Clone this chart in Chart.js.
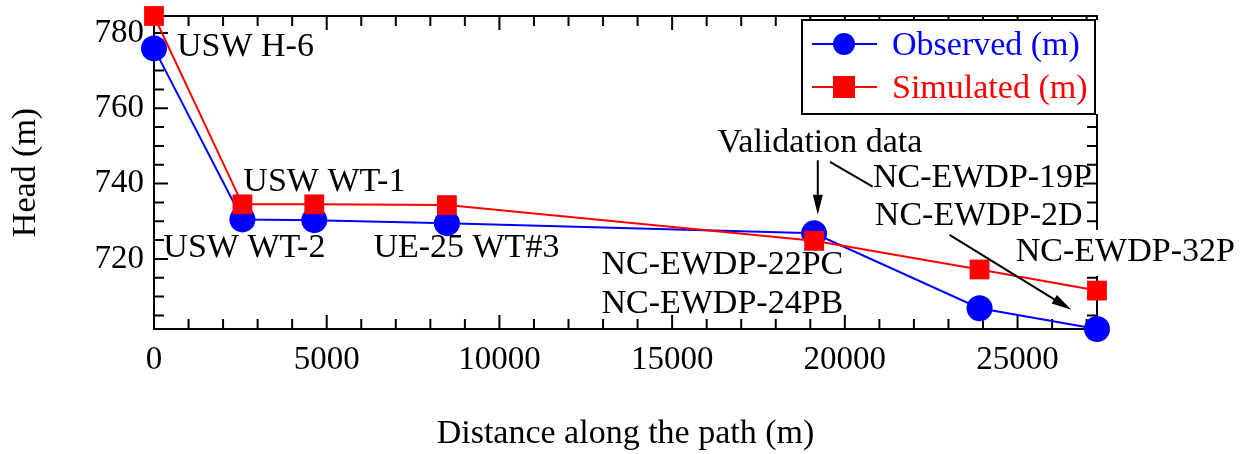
<!DOCTYPE html>
<html>
<head>
<meta charset="utf-8">
<script src="https://cdn.jsdelivr.net/npm/chart.js@4.4.1/dist/chart.umd.min.js"></script>
<style>
  body { margin: 0; background: #fff; }
  #wrap { width: 1246px; height: 454px; }
</style>
</head>
<body>
<div id="wrap"><canvas id="graphCanvasHead"></canvas></div>
<script>
// distance along the path (m) and head (m)
var distance = [0, 2560, 4640, 8480, 19110, 23900, 27300];
var headObserved = [775.9, 730.5, 730.3, 729.5, 726.8, 706.9, 701.4];
var headSimulated = [784.5, 734.5, 734.5, 734.3, 724.8, 717.2, 711.6];

var xTickLabels = [0, 5000, 10000, 15000, 20000, 25000];
var yTickLabels = [720, 740, 760, 780];

// well names, placed in data units (left edge, baseline)
var wellNames = [
  {text: 'USW H-6', x: 666, y: 773.8},
  {text: 'USW WT-1', x: 2586, y: 738.0},
  {text: 'USW WT-2', x: 270, y: 720.45},
  {text: 'UE-25 WT#3', x: 6351, y: 720.45},
  {text: 'Validation data', x: 16314, y: 748.4},
  {text: 'NC-EWDP-19P', x: 20813, y: 739.2},
  {text: 'NC-EWDP-2D', x: 20868, y: 729.0},
  {text: 'NC-EWDP-32P', x: 24949, y: 719.47, bg: true},
  {text: 'NC-EWDP-22PC', x: 12954, y: 716.0},
  {text: 'NC-EWDP-24PB', x: 12954, y: 705.6}
];

var pointerLines = [
  {x1: 19217, y1: 746.2, x2: 19217, y2: 731.7, head: true},
  {x1: 19570, y1: 745.8, x2: 20806, y2: 739.2, head: false},
  {x1: 23032, y1: 726.4, x2: 26556, y2: 706.5, head: true}
];

var serif = "'Liberation Serif', 'Times New Roman', serif";
Chart.defaults.font.family = serif;

function pts(xs, ys) {
  var out = [];
  for (var i = 0; i < xs.length; i++) {
    out.push({x: xs[i], y: ys[i]});
  }
  return out;
}

var frameTicks = {
  id: 'frameTicks',
  beforeDatasetsDraw: function (chart) {
    var ctx = chart.ctx;
    var a = chart.chartArea;
    var xs = chart.scales.x, ys = chart.scales.y;
    ctx.save();
    ctx.strokeStyle = '#000';
    ctx.lineWidth = 2;
    ctx.beginPath();
    ctx.rect(a.left, a.top, a.right - a.left, a.bottom - a.top);
    ctx.stroke();
    ctx.beginPath();
    for (var v = 0; v <= xs.max; v += 1000) {
      var px = xs.getPixelForValue(v);
      var len = (v % 5000 === 0) ? 14 : 10;
      ctx.moveTo(px, a.bottom); ctx.lineTo(px, a.bottom - len);
      ctx.moveTo(px, a.top); ctx.lineTo(px, a.top + len);
    }
    for (var w = 705; w <= ys.max; w += 5) {
      var py = ys.getPixelForValue(w);
      var l2 = (w % 20 === 0) ? 14 : 10;
      ctx.moveTo(a.left, py); ctx.lineTo(a.left + l2, py);
      ctx.moveTo(a.right, py); ctx.lineTo(a.right - l2, py);
    }
    ctx.stroke();
    ctx.restore();
  },
  afterDatasetsDraw: function (chart) {
    var ctx = chart.ctx;
    var xs = chart.scales.x, ys = chart.scales.y;
    ctx.save();
    ctx.font = '34px ' + serif;
    ctx.textAlign = 'left';
    ctx.textBaseline = 'alphabetic';
    wellNames.forEach(function (n) {
      var px = xs.getPixelForValue(n.x), py = ys.getPixelForValue(n.y);
      if (n.bg) {
        var wdt = ctx.measureText(n.text).width;
        ctx.fillStyle = '#fff';
        ctx.fillRect(px - 2, py - 31, wdt + 4, 46);
      }
      ctx.fillStyle = '#000';
      ctx.fillText(n.text, px, py);
    });
    ctx.strokeStyle = '#000';
    ctx.fillStyle = '#000';
    ctx.lineWidth = 2;
    pointerLines.forEach(function (p) {
      var x1 = xs.getPixelForValue(p.x1), y1 = ys.getPixelForValue(p.y1);
      var x2 = xs.getPixelForValue(p.x2), y2 = ys.getPixelForValue(p.y2);
      var ang = Math.atan2(y2 - y1, x2 - x1);
      var hl = p.head ? 20 : 0;
      ctx.beginPath();
      ctx.moveTo(x1, y1);
      ctx.lineTo(x2 - hl * Math.cos(ang), y2 - hl * Math.sin(ang));
      ctx.stroke();
      if (p.head) {
        ctx.beginPath();
        ctx.moveTo(x2, y2);
        ctx.lineTo(x2 - hl * Math.cos(ang) + 5 * Math.sin(ang), y2 - hl * Math.sin(ang) - 5 * Math.cos(ang));
        ctx.lineTo(x2 - hl * Math.cos(ang) - 5 * Math.sin(ang), y2 - hl * Math.sin(ang) + 5 * Math.cos(ang));
        ctx.closePath();
        ctx.fill();
      }
    });
    ctx.restore();
  },
  afterDraw: function (chart) {
    var ctx = chart.ctx;
    var a = chart.chartArea;
    var bx = a.right - 295, by = a.top + 4, bw = 293, bh = 94;
    ctx.save();
    ctx.fillStyle = '#fff';
    ctx.fillRect(bx, by, bw + 4, bh);
    ctx.strokeStyle = '#000';
    ctx.lineWidth = 2;
    ctx.strokeRect(bx, by, bw, bh);
    ctx.font = '34px ' + serif;
    ctx.textBaseline = 'middle';
    ctx.textAlign = 'left';
    chart.data.datasets.forEach(function (ds, i) {
      var cy = by + 24 + i * 43;
      ctx.strokeStyle = ds.borderColor;
      ctx.fillStyle = ds.borderColor;
      ctx.beginPath();
      ctx.moveTo(bx + 10, cy);
      ctx.lineTo(bx + 75, cy);
      ctx.stroke();
      if (ds.pointStyle === 'circle') {
        ctx.beginPath();
        ctx.arc(bx + 42, cy, 11, 0, Math.PI * 2);
        ctx.fill();
      } else {
        ctx.fillRect(bx + 31, cy - 11, 22, 22);
      }
      ctx.fillText(ds.label, bx + 90, cy + 2);
    });
    ctx.restore();
  }
};

var graphTarget = document.getElementById('graphCanvasHead');

var lineGraph = new Chart(graphTarget, {
  type: 'scatter',
  data: {
    datasets: [
      {
        label: 'Observed (m)',
        data: pts(distance, headObserved),
        showLine: true,
        borderColor: '#0000ff',
        backgroundColor: '#0000ff',
        borderWidth: 2,
        pointStyle: 'circle',
        pointRadius: 13,
        pointBorderWidth: 0,
        clip: false,
        order: 2
      },
      {
        label: 'Simulated (m)',
        data: pts(distance, headSimulated),
        showLine: true,
        borderColor: '#ff0000',
        backgroundColor: '#ff0000',
        borderWidth: 2,
        pointStyle: 'rect',
        pointRadius: 14,
        pointBorderWidth: 0,
        clip: false,
        order: 1
      }
    ]
  },
  options: {
    responsive: true,
    maintainAspectRatio: false,
    animation: false,
    layout: { padding: { left: 0, right: 149, top: 16, bottom: 0 } },
    plugins: {
      legend: { display: false },
      tooltip: { enabled: false }
    },
    scales: {
      x: {
        type: 'linear',
        min: 0,
        max: 27300,
        border: { display: false },
        grid: { display: false, drawTicks: false },
        afterBuildTicks: function (axis) {
          axis.ticks = xTickLabels.map(function (v) { return {value: v}; });
        },
        ticks: {
          color: '#000', font: { size: 33 }, padding: 12, maxRotation: 0, autoSkip: false,
          callback: function (v) { return String(v); }
        },
        title: { display: true, text: 'Distance along the path (m)', color: '#000', font: { size: 34 }, padding: 0 },
        afterFit: function (axis) {
          axis.height = 125;
          axis.paddingLeft = 0; axis.paddingRight = 0;
        }
      },
      y: {
        type: 'linear',
        min: 701.4,
        max: 784.5,
        border: { display: false },
        grid: { display: false, drawTicks: false },
        afterBuildTicks: function (axis) {
          axis.ticks = yTickLabels.map(function (v) { return {value: v}; });
        },
        ticks: { color: '#000', font: { size: 33 }, padding: 10, callback: function (v) { return String(v); } },
        title: { display: true, text: 'Head (m)', color: '#000', font: { size: 34 }, padding: { top: 6, bottom: 6 } },
        afterFit: function (axis) {
          axis.width = 154;
          axis.paddingTop = 0; axis.paddingBottom = 0;
        }
      }
    }
  },
  plugins: [frameTicks]
});
</script>
</body>
</html>
